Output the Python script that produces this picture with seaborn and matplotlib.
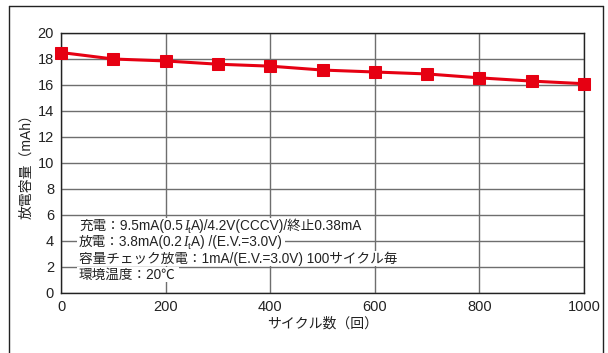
import matplotlib
matplotlib.use('Agg')
import matplotlib.pyplot as plt
import seaborn as sns
import pandas as pd
from matplotlib.lines import Line2D
from matplotlib.patches import Rectangle
from matplotlib.transforms import Bbox

# データ
cycles = [0, 100, 200, 300, 400, 500, 600, 700, 800, 900, 1000]
capacity = [18.5, 18.0, 17.85, 17.6, 17.45, 17.15, 17.0, 16.85, 16.55, 16.3, 16.1]
# 各行: I_t の前後で分割
notes = [
    ['充電：9.5mA(0.5', 'A)/4.2V(CCCV)/終止0.38mA'],
    ['放電：3.8mA(0.2', 'A) /(E.V.=3.0V)'],
    ['容量チェック放電：1mA/(E.V.=3.0V) 100サイクル毎'],
    ['環境温度：20℃'],
]

sns.set_style('white')
plt.rcParams['font.family'] = ['Liberation Sans', 'Noto Sans CJK JP', 'DejaVu Sans']

df = pd.DataFrame({'cycle': cycles, 'cap': capacity})

fig = plt.figure(figsize=(6.08, 3.53), dpi=100)
ax = fig.add_axes([61 / 608, 60 / 353, 523 / 608, 260 / 353])

sns.lineplot(data=df, x='cycle', y='cap', ax=ax, color='#e60012',
             linewidth=2.2, marker='s', markersize=8.5,
             markeredgecolor='#e60012', zorder=5, clip_on=False)

ax.set_xlim(0, 1000)
ax.set_ylim(0, 20)
ax.set_xticks(range(0, 1001, 200))
ax.set_yticks(range(0, 21, 2))
ax.grid(True, color='#6e6e6e', linewidth=1.0)
ax.tick_params(length=0, labelsize=10.5, colors='#222222', pad=5)
for s in ax.spines.values():
    s.set_color('#222222')
    s.set_linewidth(1.0)

ax.set_xlabel('サイクル数（回）', fontsize=10, color='#222222', labelpad=2)
ax.set_ylabel('放電容量（mAh）', fontsize=10, color='#222222', labelpad=3)

# 条件テキスト
fs = 9.8
lines = []
for i, parts in enumerate(notes):
    y = (293 - 226) / 260 - i * 16.3 / 260
    t = ax.text(18 / 523, y, parts[0], transform=ax.transAxes, fontsize=fs,
                color='#222222', va='center', ha='left', zorder=6)
    pieces = [t]
    if len(parts) > 1:
        t = ax.annotate('I', xy=(1, 0), xycoords=t, xytext=(0.5, 0),
                        textcoords='offset points', va='bottom', ha='left',
                        fontsize=fs, color='#222222', zorder=6,
                        family='Liberation Serif', style='italic')
        pieces.append(t)
        t = ax.annotate('t', xy=(1, 0), xycoords=t, xytext=(0, -1.5),
                        textcoords='offset points', va='bottom', ha='left',
                        fontsize=6.8, color='#222222', zorder=6)
        pieces.append(t)
        t = ax.annotate(parts[1], xy=(1, 0), xycoords=t, xytext=(0.3, 1.5),
                        textcoords='offset points', va='bottom', ha='left',
                        fontsize=fs, color='#222222', zorder=6)
        pieces.append(t)
    lines.append(pieces)

# 文字の後ろに白い帯を敷く
fig.canvas.draw()
r = fig.canvas.get_renderer()
for pieces in lines:
    bb = Bbox.union([p.get_window_extent(r) for p in pieces])
    bb = Bbox.from_extents(bb.x0 - 2, bb.y0 - 0.5, bb.x1 + 3, bb.y1 + 0.5)
    bb = bb.transformed(ax.transAxes.inverted())
    ax.add_patch(Rectangle((bb.x0, bb.y0), bb.width, bb.height,
                           transform=ax.transAxes, facecolor='white',
                           edgecolor='none', zorder=5.5))

# 外枠
fig.add_artist(Line2D([9 / 608, 9 / 608], [0, 1 - 6 / 353], color='#222222', lw=1.0))
fig.add_artist(Line2D([9 / 608, 603 / 608], [1 - 6 / 353, 1 - 6 / 353], color='#222222', lw=1.0))
fig.add_artist(Line2D([603 / 608, 603 / 608], [0, 1 - 6 / 353], color='#222222', lw=1.0))

plt.savefig('out.png', dpi=100)
